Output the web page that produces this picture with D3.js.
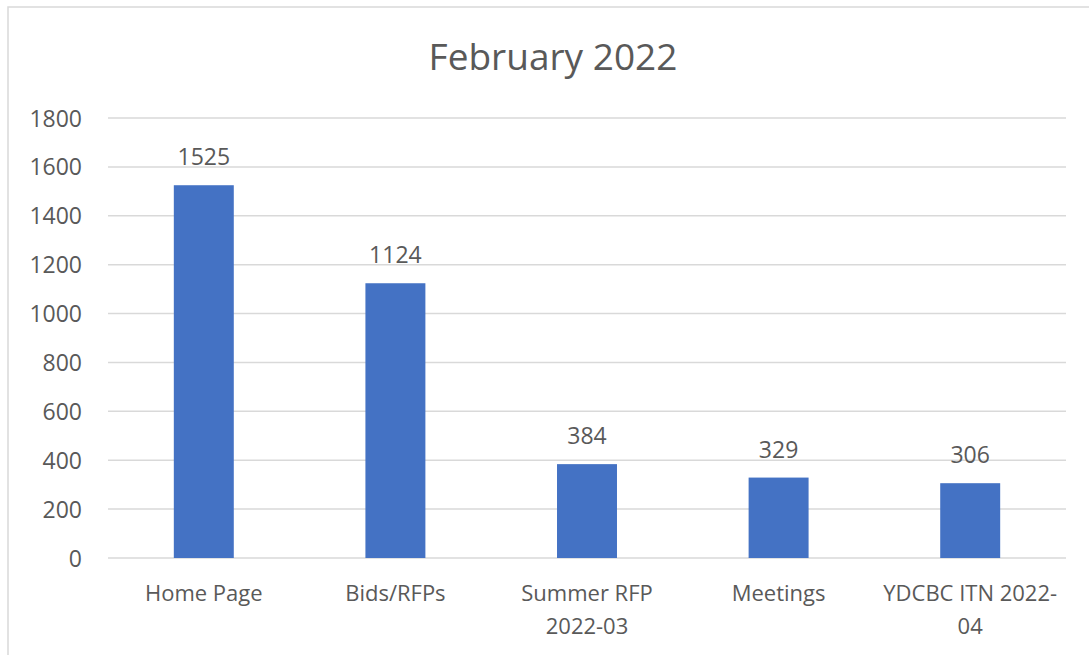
<!DOCTYPE html>
<html>
<head>
<meta charset="utf-8">
<script src="https://cdn.jsdelivr.net/npm/d3@7"></script>
<style>
  html, body { margin: 0; padding: 0; background: #fff; }
  svg { display: block; }
  text { font-family: "Open Sans", "Noto Sans", sans-serif; fill: #595959; }
</style>
</head>
<body>
<svg id="chart" width="1089" height="655"></svg>
<script>
const title = "February 2022";
const categories = ["Home Page", "Bids/RFPs", "Summer RFP 2022-03", "Meetings", "YDCBC ITN 2022-04"];
const categoryLines = [["Home Page"], ["Bids/RFPs"], ["Summer RFP", "2022-03"], ["Meetings"], ["YDCBC ITN 2022-", "04"]];
const values = [1525, 1124, 384, 329, 306];
const yTicks = [0, 200, 400, 600, 800, 1000, 1200, 1400, 1600, 1800];

const svg = d3.select("#chart");

// chart border
svg.append("rect")
  .attr("x", 8).attr("y", 7)
  .attr("width", 1120).attr("height", 700)
  .attr("fill", "none")
  .attr("stroke", "#d9d9d9")
  .attr("stroke-width", 1.5);

const x = d3.scaleBand()
  .domain(categories)
  .range([108, 1066])
  .paddingInner(0.687)
  .paddingOuter(0.3435);

const y = d3.scaleLinear()
  .domain([0, 1800])
  .range([558, 118]);

// title
svg.append("text")
  .attr("x", 553)
  .attr("y", 70)
  .attr("text-anchor", "middle")
  .style("font-size", "37px")
  .text(title);

// gridlines
svg.append("g")
  .selectAll("line")
  .data(yTicks)
  .join("line")
  .attr("x1", 108).attr("x2", 1066)
  .attr("y1", d => y(d)).attr("y2", d => y(d))
  .attr("stroke", "#d9d9d9")
  .attr("stroke-width", 1.5);

// y axis labels
const yAxis = d3.axisLeft(y).tickValues(yTicks).tickFormat(d3.format("d")).tickSize(0).tickPadding(0);
const gy = svg.append("g").attr("transform", "translate(82,0)").call(yAxis);
gy.select(".domain").remove();
gy.selectAll("text")
  .style("font-size", "23px")
  .style("font-family", "'Open Sans', sans-serif")
  .attr("fill", "#595959")
  .attr("dy", "0.35em");

// bars
svg.append("g")
  .selectAll("rect")
  .data(values)
  .join("rect")
  .attr("x", (d, i) => x(categories[i]))
  .attr("y", d => y(d))
  .attr("width", x.bandwidth())
  .attr("height", d => y(0) - y(d))
  .attr("fill", "#4472c4");

// data labels
svg.append("g")
  .selectAll("text")
  .data(values)
  .join("text")
  .attr("x", (d, i) => x(categories[i]) + x.bandwidth() / 2)
  .attr("y", d => y(d) - 20)
  .attr("text-anchor", "middle")
  .style("font-size", "23px")
  .text(d => d);

// x axis labels
const xl = svg.append("g")
  .selectAll("text")
  .data(categories)
  .join("text")
  .attr("x", d => x(d) + x.bandwidth() / 2)
  .attr("y", 601)
  .attr("text-anchor", "middle")
  .style("font-size", "22px");
xl.each(function(d, i) {
  const t = d3.select(this);
  categoryLines[i].forEach((line, j) => {
    t.append("tspan")
      .attr("x", x(d) + x.bandwidth() / 2)
      .attr("dy", j === 0 ? 0 : 33)
      .text(line);
  });
});
</script>
</body>
</html>
